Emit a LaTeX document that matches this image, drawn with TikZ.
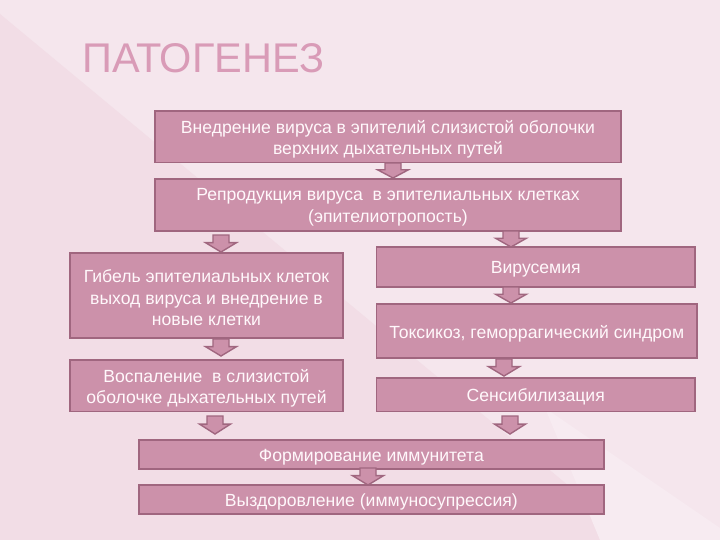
\documentclass[tikz,border=0pt]{standalone}
\usepackage{fontspec}
\setmainfont{Liberation Sans}
\usetikzlibrary{calc}
\definecolor{bgbase}{HTML}{F5E6ED}
\definecolor{bgdark}{HTML}{F2DDE6}
\definecolor{bglight}{HTML}{F7EBF1}
\definecolor{boxfill}{HTML}{CC91AA}
\definecolor{boxline}{HTML}{A0667F}
\definecolor{titlecol}{HTML}{D99BB7}
\definecolor{txtcol}{HTML}{FFF8FB}
\newcommand\blkarrow[4]{%
  \coordinate (#1) at (#2,#3);
  \draw[blockarr] (#1) ++(-8,0) -- ++(16,0) -- ++(0,{0.45*#4}) -- ++(7.5,0)
    -- ++(-15.5,{0.55*#4}) -- ++(-15.5,{-0.55*#4}) -- ++(7.5,0) -- cycle;}
\newcommand\stepnode[6]{% name, x, y, w, h, text
  \node[stepbox, minimum width=#4pt, minimum height=#5pt] (#1) at (#2,#3) {};
  \node[steptext] (#1t) at ($(#1.center)+(0,2.5)$) {#6};}
\begin{document}
\begin{tikzpicture}[x=1pt,y=-1pt,
  stepbox/.style={draw=boxline, fill=boxfill, line width=1.6pt, inner sep=0pt},
  steptext/.style={inner sep=0pt, align=center, text=txtcol, font=\fontsize{17.6}{21.5}\selectfont},
  blockarr/.style={draw=boxline, fill=boxfill, line width=1.4pt, line join=miter}]
% background
\fill[bgbase] (0,0) rectangle (720,540);
\fill[bgdark] (0,14) -- (634,540) -- (0,540) -- cycle;
\fill[bglight] (545,408) -- (720,528) -- (720,540) -- (600,540) -- cycle;
\useasboundingbox (0,0) rectangle (720,540);
% title
\node[anchor=base west, text=titlecol, font=\fontsize{41.5}{41.5}\selectfont, inner sep=0pt] (title) at (82,73) {ПАТОГЕНЕЗ};
% boxes
\stepnode{b1}{388}{136.75}{466}{51.5}{Внедрение вируса в эпителий слизистой оболочки\\верхних дыхательных путей}
\stepnode{b2}{388}{205}{466}{52}{Репродукция вируса\ \ в эпителиальных клетках\\(эпителиотропость)}
\stepnode{b3}{206.5}{295.5}{273}{85}{Гибель эпителиальных клеток\\выход вируса и внедрение в\\новые клетки}
\stepnode{b4}{206.5}{385.75}{273}{51.5}{Воспаление\ \ в слизистой\\оболочке дыхательных путей}
\stepnode{b5}{535.75}{267}{318.5}{40}{Вирусемия}
\stepnode{b6}{536.75}{331}{320.5}{54}{Токсикоз, геморрагический синдром}
\stepnode{b7}{535.75}{394.75}{318.5}{33.5}{Сенсибилизация}
\stepnode{b8}{371.35}{454.5}{465.3}{29}{Формирование иммунитета}
\stepnode{b9}{371.35}{499.5}{465.3}{29}{Выздоровление (иммуносупрессия)}
% arrows
\blkarrow{a1}{393}{163}{15}
\blkarrow{a2}{221}{235}{17}
\blkarrow{a3}{511}{231}{16}
\blkarrow{a4}{221}{339}{17}
\blkarrow{a5}{511}{287}{16}
\blkarrow{a6}{504}{359}{17}
\blkarrow{a7}{215}{416}{18}
\blkarrow{a8}{510}{416}{18}
\blkarrow{a9}{368}{468}{17}
\end{tikzpicture}
\end{document}
